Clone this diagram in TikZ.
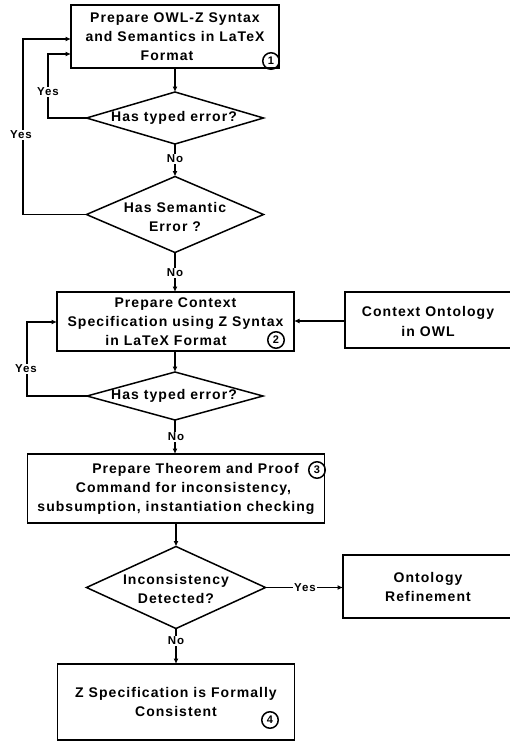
\documentclass[tikz,border=0pt]{standalone}
\usepackage{fontspec}
\setmainfont{Liberation Sans}
\newfontfamily\dfont[LetterSpace=7.5]{Liberation Sans}
\usetikzlibrary{shapes.geometric,arrows.meta,calc}
\begin{document}
\begin{tikzpicture}[x=1pt,y=-1pt,
  box/.style={draw, line width=1.7pt, rectangle, inner sep=0pt, outer sep=0pt,
    font=\dfont\bfseries\fontsize{14}{19}\selectfont, align=center},
  dia/.style={draw, line width=1.5pt, diamond, inner sep=0pt, outer sep=0pt},
  txt/.style={font=\dfont\bfseries\fontsize{14}{19}\selectfont, align=center, inner sep=0pt},
  lab/.style={font=\dfont\bfseries\fontsize{11.5}{12}\selectfont, fill=white, inner sep=1pt},
  num/.style={draw, circle, line width=1.5pt, minimum size=16.5pt, inner sep=0pt,
    font=\dfont\bfseries\fontsize{11}{11}\selectfont},
  arr/.style={line width=1.4pt, -{Latex[length=5.5pt,width=5pt]}}]
\useasboundingbox (0,0) rectangle (509,742);

% boxes
\node[box, minimum width=208pt, minimum height=63pt] (b1) at (175,36.5)
  {Prepare OWL-Z Syntax\\and Semantics in LaTeX\\Format\rule{16pt}{0pt}};
\node[box, minimum width=237pt, minimum height=59pt] (b2) at (175.5,321.5)
  {Prepare Context\\Specification using Z Syntax\\in LaTeX Format\rule{19pt}{0pt}};
\node[box, minimum width=166pt, minimum height=56pt] (ctx) at (428,320)
  {\raisebox{-6.5pt}[0pt][0pt]{\begin{tabular}{@{}c@{}}Context Ontology\\[1pt]in OWL\end{tabular}}};
\node[box, minimum width=297pt, minimum height=69pt] (b3) at (176,488.5)
  {\rule{39pt}{0pt}Prepare Theorem and Proof\\\rule{15pt}{0pt}Command for inconsistency,\\subsumption, instantiation checking};
\node[box, minimum width=170pt, minimum height=63pt] (ore) at (428,586.5)
  {Ontology\\Refinement};
\node[box, minimum width=237pt, minimum height=76pt] (b4) at (176,702)
  {Z Specification is Formally\\Consistent};

% numbered circles
\node[num] (c1) at (271,61) {1};
\node[num] (c2) at (276,340) {2};
\node[num] (c3) at (317,470) {3};
\node[num] (c4) at (270,720) {4};

% diamonds
\node[dia, minimum width=177pt, minimum height=52pt] (d1) at (175,118) {};
\node[txt] (d1t) at (174,118) {Has typed error?};
\node[dia, minimum width=177pt, minimum height=76pt] (d2) at (175,214.5) {};
\node[txt] (d2t) at (175,216.5) {Has Semantic\\Error ?};
\node[dia, minimum width=176pt, minimum height=48pt] (d3) at (175,396) {};
\node[txt] (d3t) at (174,396) {Has typed error?};
\node[dia, minimum width=179pt, minimum height=82pt] (d4) at (176,587.5) {};
\node[txt] (d4t) at (176,588.5) {Inconsistency\\Detected?};

% loop corners
\coordinate (k1) at (48,54);
\coordinate (k2) at (23,39);
\coordinate (k3) at (27,322);

% connectors
\draw[arr] (b1.south) -- (d1.north);
\draw[arr] (d1.west) -| (k1) -- (k1 -| b1.west);
\draw[arr] (d1.south) -- (d2.north);
\draw[arr] (d2.west) -| (k2) -- (k2 -| b1.west);
\draw[arr] (d2.south) -- (d2.south |- b2.north);
\draw[arr] (ctx.west |- 0,321) -- (b2.east |- 0,321);
\draw[arr] (b2.south -| d3.north) -- (d3.north);
\draw[arr] (d3.west) -| (k3) -- (k3 -| b2.west);
\draw[arr] (d3.south) -- (d3.south |- b3.north);
\draw[arr] (b3.south) -- (d4.north);
\draw[arr] (d4.east) -- (ore.west |- d4.east);
\draw[arr] (d4.south) -- (b4.north);

% labels
\node[lab] (y1) at (48,92) {Yes};
\node[lab] (y2) at (21,135) {Yes};
\node[lab] (n1) at (175,159) {No};
\node[lab] (n2) at (175,273) {No};
\node[lab] (y3) at (26,369) {Yes};
\node[lab] (n3) at (176,437) {No};
\node[lab] (y4) at (305,588) {Yes};
\node[lab] (n4) at (176,641) {No};
\end{tikzpicture}
\end{document}
